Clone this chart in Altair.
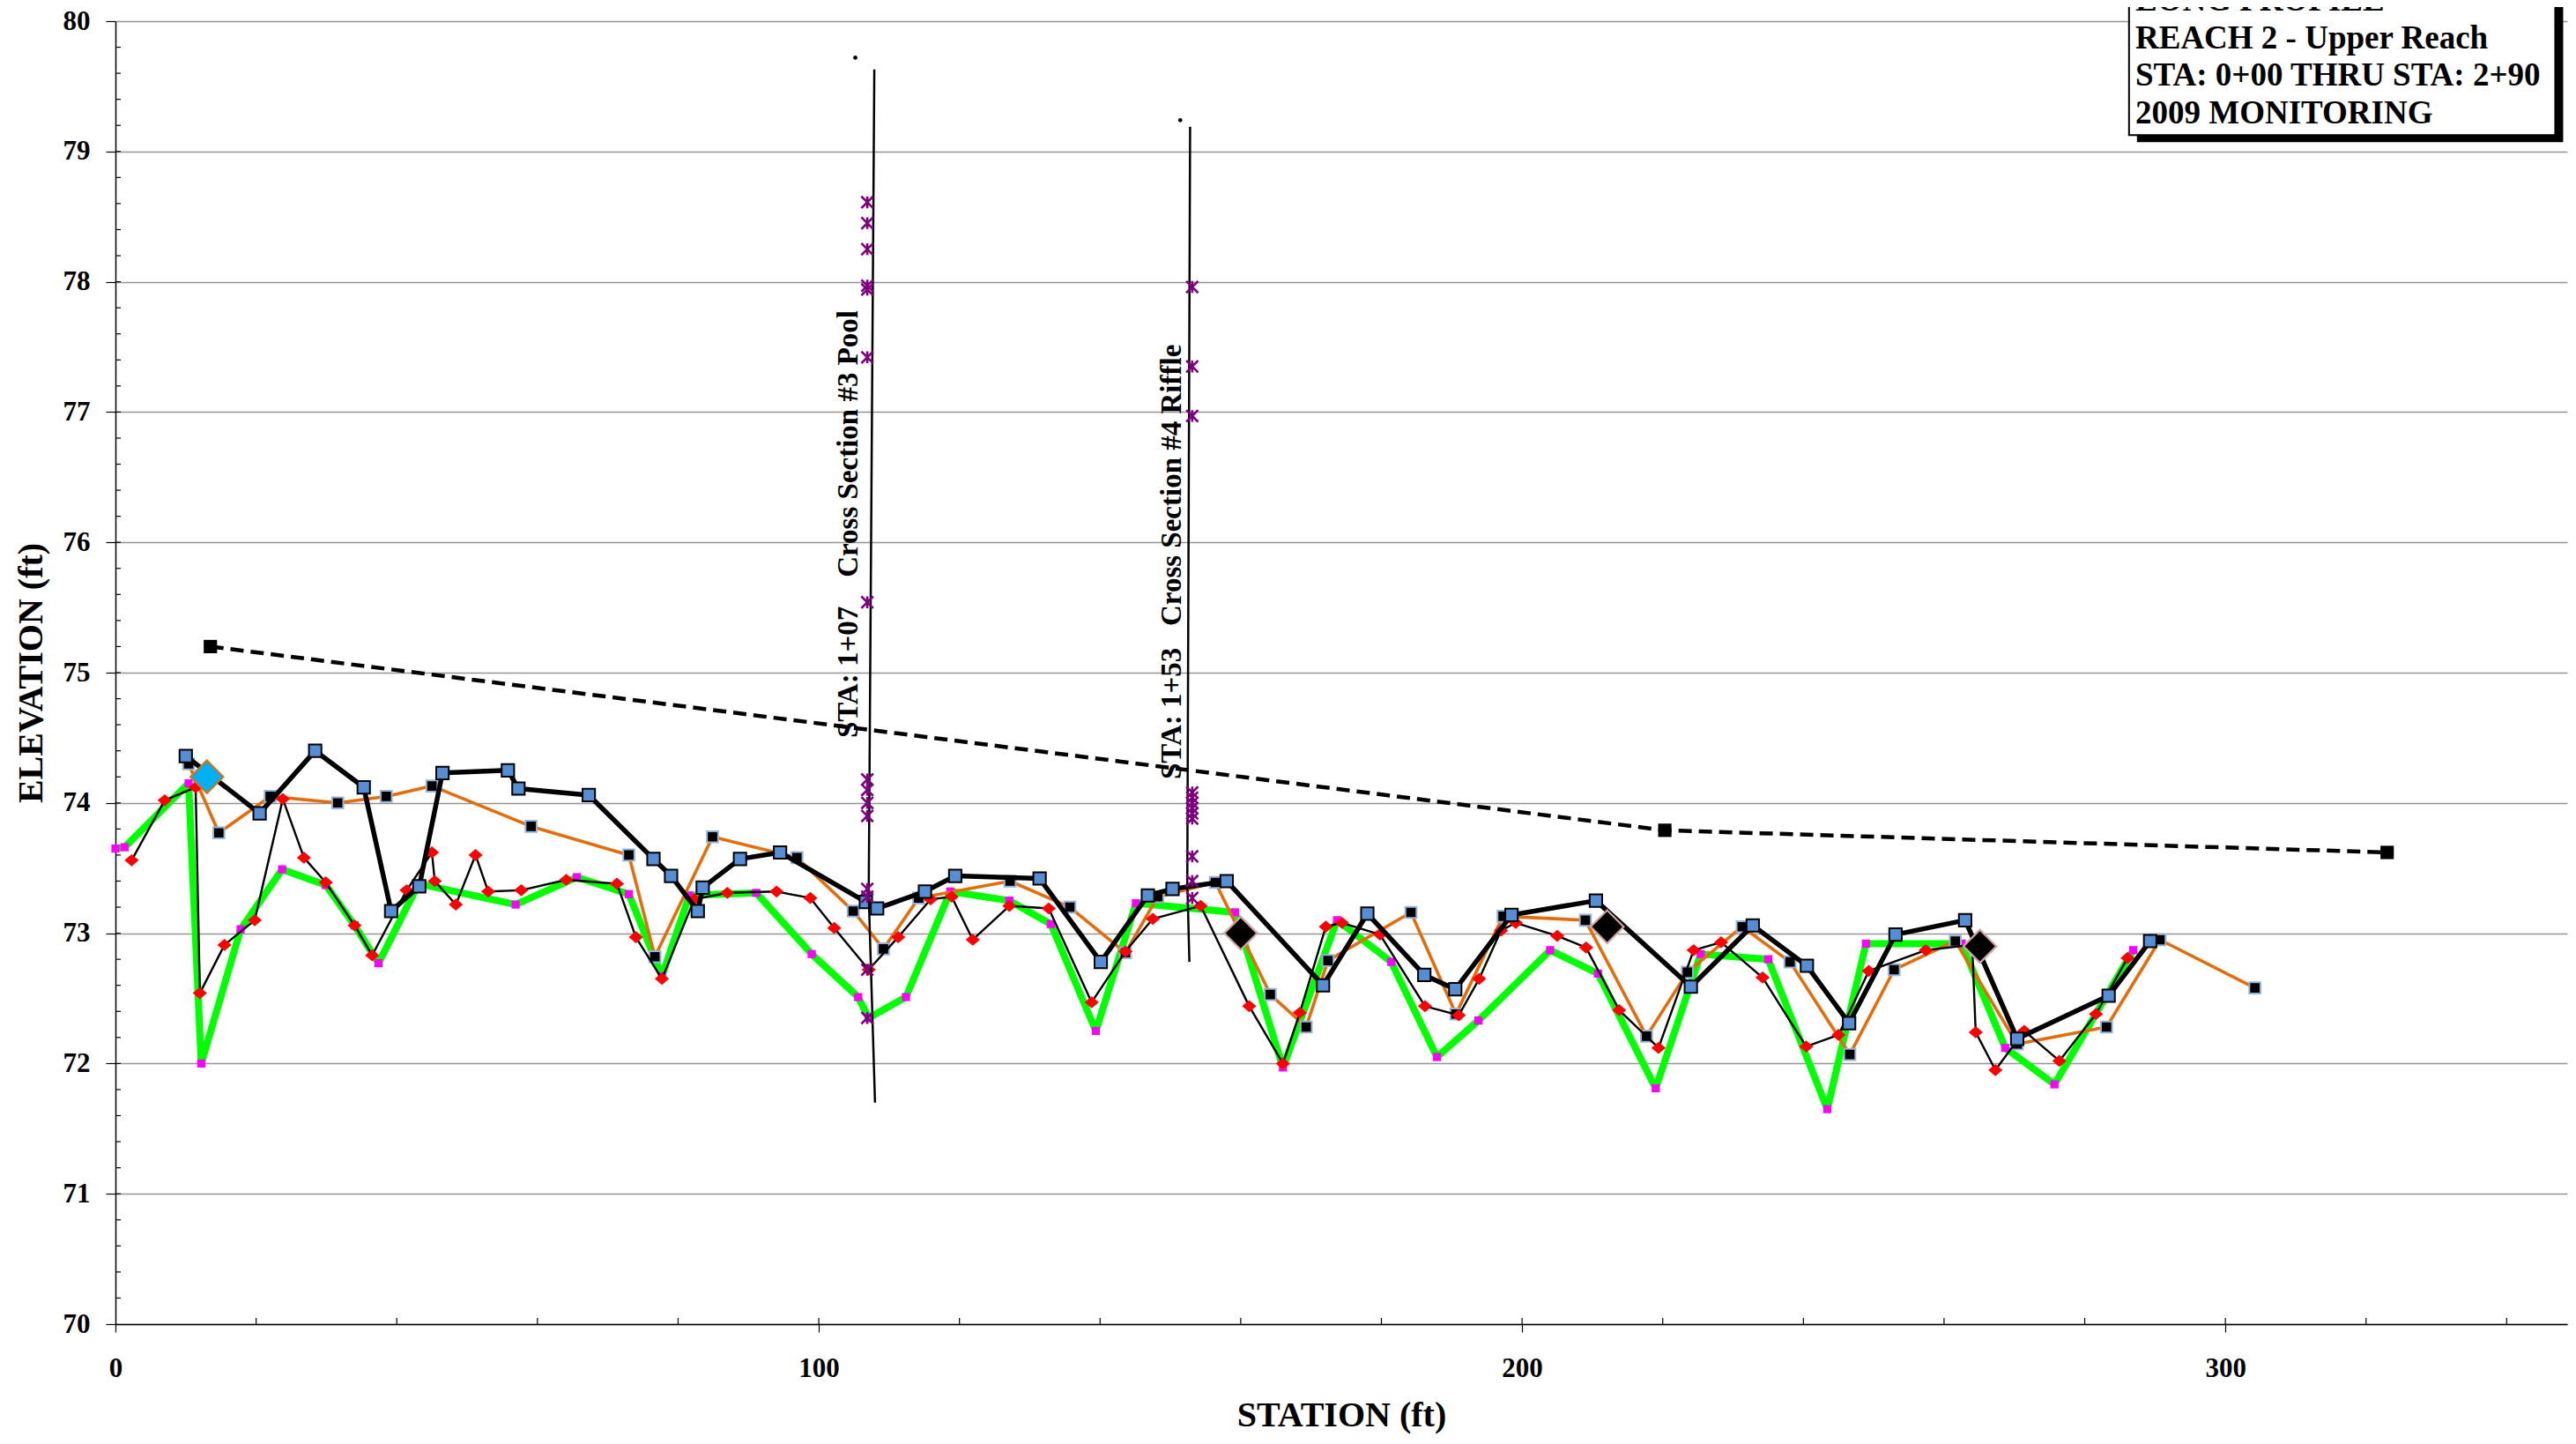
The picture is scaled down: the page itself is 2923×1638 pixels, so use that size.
import altair as alt
import pandas as pd

# ---------------- data ----------------
# dashed reference slope line
SLOPE_STA = [13.5, 220.3, 323.0]
SLOPE_EL = [75.20, 73.79, 73.62]

# thick black line with blue squares
WS_STA = [10.0, 20.5, 28.4, 35.3, 39.2, 43.2, 46.5, 55.8, 57.3, 67.3,
          76.5, 79.0, 82.8, 83.5, 88.8, 94.5, 106.7, 108.3, 115.1, 119.4,
          131.4, 140.1, 146.8, 150.3, 158.0, 171.7, 178.0, 186.1, 190.5, 198.5,
          210.5, 224.0, 232.8, 240.5, 246.5, 253.1, 263.0, 270.4, 283.4, 289.3]
WS_EL = [74.36, 73.92, 74.40, 74.12, 73.17, 73.36, 74.23, 74.25, 74.11, 74.06,
         73.57, 73.44, 73.17, 73.35, 73.57, 73.62, 73.24, 73.19, 73.32, 73.44,
         73.42, 72.78, 73.29, 73.34, 73.40, 72.60, 73.15, 72.68, 72.57, 73.14,
         73.25, 72.59, 73.06, 72.75, 72.31, 72.99, 73.10, 72.19, 72.52, 72.94]

# orange line with black squares
OR_STA = [10.4, 14.7, 22.0, 31.6, 38.5, 45.0, 59.1,
          73.0, 76.7, 84.9, 96.9, 104.9, 109.2, 114.2, 127.2, 135.7, 143.6, 148.2,
          156.4, 164.2, 169.3, 172.4, 184.2, 190.6, 197.3, 209.0, 217.7, 223.5, 231.3,
          238.1, 246.6, 252.9, 261.6, 270.4, 283.1, 290.7, 304.2]
OR_EL = [74.30, 73.77, 74.05, 74.00, 74.05, 74.13, 73.82,
         73.60, 72.82, 73.74, 73.58, 73.17, 72.88, 73.27, 73.40, 73.20, 72.85, 73.28,
         73.39, 72.53, 72.28, 72.79, 73.16, 72.38, 73.13, 73.10, 72.21, 72.70, 73.05,
         72.78, 72.07, 72.72, 72.94, 72.15, 72.28, 72.95, 72.58]

# thin black line with red diamonds
TH_STA = [2.3, 7.0, 11.4, 12.0, 15.5, 19.8, 23.8, 26.8, 29.9, 34.0,
          36.5, 41.4, 45.0, 45.4, 48.4, 51.2, 53.0, 57.7, 64.1,
          71.3, 74.0, 77.7, 82.3, 87.0, 94.0, 98.8, 102.2, 107.1, 111.3,
          115.9, 118.9, 121.9, 127.1, 132.7, 138.8, 143.6, 147.5,
          154.3, 161.2, 166.0, 168.4, 172.1, 174.4, 179.8, 186.2, 191.0, 193.9,
          197.0, 199.1, 205.0, 209.1, 213.8, 219.4, 224.4, 228.3,
          234.2, 240.4, 245.0, 249.3, 257.4, 264.0, 264.5, 267.3, 271.4, 276.4,
          281.6, 286.1]
TH_EL = [73.56, 74.02, 74.12, 72.54, 72.91, 73.10, 74.03, 73.58, 73.39, 73.06,
         72.83, 73.33, 73.62, 73.40, 73.22, 73.60, 73.32, 73.33, 73.41,
         73.38, 72.97, 72.65, 73.26, 73.31, 73.32, 73.27, 73.04, 72.72, 72.97,
         73.26, 73.28, 72.95, 73.21, 73.19, 72.47, 72.86, 73.11,
         73.21, 72.44, 72.00, 72.39, 73.05, 73.08, 72.99, 72.44, 72.37, 72.65,
         73.02, 73.08, 72.98, 72.89, 72.41, 72.12, 72.87, 72.93,
         72.66, 72.13, 72.22, 72.71, 72.87, 72.91, 72.24, 71.95, 72.25, 72.02,
         72.38, 72.81]

# thick green line with magenta squares
PT_STA = [0.0, 1.3, 10.4, 12.2, 17.8, 23.7, 29.9, 34.0, 37.4, 43.1,
          56.9, 65.6, 73.0, 77.7, 81.6, 91.1, 99.0, 105.6, 107.1, 112.4,
          118.7, 127.1, 133.0, 139.4, 145.1, 159.2, 166.0, 173.7, 181.4, 187.9,
          193.8, 204.0, 210.8, 219.0, 225.4, 235.0, 243.4, 248.9, 262.5, 268.7,
          275.7, 286.9]
PT_EL = [73.65, 73.66, 74.15, 72.00, 73.03, 73.49, 73.37, 73.06, 72.77, 73.38,
         73.22, 73.43, 73.30, 72.67, 73.29, 73.31, 72.84, 72.51, 72.35, 72.51,
         73.32, 73.25, 73.07, 72.25, 73.23, 73.16, 71.97, 73.10, 72.78, 72.05,
         72.33, 72.87, 72.69, 71.81, 72.84, 72.80, 71.65, 72.92, 72.92, 72.12,
         71.84, 72.87]

# cross sections
XS3_LINE_STA = [107.9, 107.1, 108.0]
XS3_LINE_EL = [79.63, 73.30, 71.70]
XS4_LINE_STA = [152.8, 152.4, 152.7]
XS4_LINE_EL = [79.19, 73.40, 72.78]
XS3_PT_STA = 106.9
XS3_PT_EL = [78.61, 78.45, 78.25, 77.97, 77.94, 77.42, 75.54, 74.18, 74.10,
             74.00, 73.90, 73.34, 73.28, 72.72, 72.35]
XS4_PT_STA = 153.1
XS4_PT_EL = [77.96, 77.35, 76.97, 74.08, 74.04, 74.00, 73.96, 73.92, 73.88,
             73.59, 73.40, 73.27]
XS_DOT_STA = [105.2, 151.4]
XS_DOT_EL = [79.72, 79.24]
XS_LABEL_STA = [104.3, 150.2]
XS_LABEL_EL = [76.14, 75.85]
NB = "\u00a0"
XS_LABELS = ["STA: 1+07" + NB * 4 + "Cross Section #3 Pool",
             "STA: 1+53" + NB * 3 + "Cross Section #4 Riffle"]

# feature markers
CYAN_STA = [13.0]
CYAN_EL = [74.20]
BIGD_STA = [160.0, 212.1, 265.1]
BIGD_EL = [73.00, 73.05, 72.90]

# title block
TITLE_LINES = ["LONG PROFILE", "REACH 2 - Upper Reach",
               "STA: 0+00 THRU STA: 2+90", "2009 MONITORING"]
BOX_STA = [286.3, 346.9]
BOX_EL = [79.125, 81.5]
TITLE_POS = [287.2, 80.08]

# axis ticks
X_LABEL_VALUES = [0, 100, 200, 300]
X_MINOR = list(range(20, 341, 20))
Y_VALUES = list(range(70, 81))
Y_MINOR = [round(70 + 0.2 * k, 1) for k in range(1, 50)]

# ---------------- layout ----------------
W, H = 2782, 1478
X_MAX = 348.6
FONT = "Liberation Serif"

xscale = alt.Scale(domain=[0, X_MAX], nice=False, zero=False)
yscale = alt.Scale(domain=[70, 80], nice=False, zero=False)

xaxis = alt.Axis(values=X_LABEL_VALUES, title="STATION (ft)", grid=False,
                 domainColor="black", domainWidth=1.5, tickColor="black",
                 tickSize=9, tickWidth=1.2, labelFont=FONT, labelFontSize=31,
                 labelFontWeight="bold", labelColor="black", labelPadding=26,
                 labelBaseline="top", labelFlush=False, labelOverlap=False,
                 titleFont=FONT, titleFontSize=40, titleFontWeight="bold",
                 titleColor="black", titleX=W / 2, titleY=103,
                 titleBaseline="middle", titleAlign="center")
yaxis = alt.Axis(values=Y_VALUES, title="ELEVATION (ft)", grid=True,
                 gridColor="#959595", gridWidth=1.5, domainColor="black",
                 domainWidth=1.5, tickColor="black", tickSize=11, tickWidth=1.2,
                 labelFont=FONT, labelFontSize=31, labelFontWeight="bold",
                 labelColor="black", labelPadding=18, labelBaseline="middle",
                 labelAlign="right", labelFlush=False, labelOverlap=False,
                 titleFont=FONT, titleFontSize=40, titleFontWeight="bold",
                 titleColor="black", titleX=-96, titleY=H / 2, titleAngle=270,
                 titleBaseline="middle", titleAlign="center")


def X():
    return alt.X("sta:Q", scale=xscale, axis=xaxis)


def Y():
    return alt.Y("el:Q", scale=yscale, axis=yaxis)


def frame(sta, el):
    if not isinstance(sta, (list, tuple)):
        sta = [sta] * len(el)
    return pd.DataFrame({"sta": sta, "el": el, "i": list(range(len(el)))})


def line(sta, el, **kw):
    return alt.Chart(frame(sta, el)).mark_line(strokeJoin="round", **kw).encode(
        x=X(), y=Y(), order="i:Q")


def pts(sta, el, **kw):
    return alt.Chart(frame(sta, el)).mark_point(opacity=1, **kw).encode(x=X(), y=Y())


ASTERISK = "M-1,-1L1,1M-1,1L1,-1M0,-1L0,1"
WIDE_DIAMOND = "M-1,0L0,-0.85L1,0L0,0.85Z"

layers = []
# previous thalweg: green
layers.append(line(PT_STA, PT_EL, color="#00FF00", strokeWidth=8))
layers.append(pts(PT_STA, PT_EL, shape="square", filled=True, size=85, fill="#FF00FF", strokeWidth=0))
# orange
layers.append(line(OR_STA, OR_EL, color="#E46C0A", strokeWidth=3.6))
layers.append(pts(OR_STA, OR_EL, shape="square", filled=True, size=160, fill="black",
                  stroke="#95B3D7", strokeWidth=2))
# thin black + red diamonds
layers.append(line(TH_STA, TH_EL, color="black", strokeWidth=2.4))
layers.append(pts(TH_STA, TH_EL, shape=WIDE_DIAMOND, filled=True, size=260, fill="#FF0000", strokeWidth=0))
# thick black + blue squares
layers.append(line(WS_STA, WS_EL, color="black", strokeWidth=5.5))
layers.append(pts(WS_STA, WS_EL, shape="square", filled=True, size=200, fill="#558ED5",
                  stroke="black", strokeWidth=2))
# dashed slope
layers.append(line(SLOPE_STA, SLOPE_EL, color="black", strokeWidth=4.5, strokeDash=[15, 8]))
layers.append(pts(SLOPE_STA, SLOPE_EL, shape="square", filled=True, size=230, fill="black", strokeWidth=0))
# cross-section lines
layers.append(line(XS3_LINE_STA, XS3_LINE_EL, color="black", strokeWidth=2.5))
layers.append(line(XS4_LINE_STA, XS4_LINE_EL, color="black", strokeWidth=2.5))
layers.append(alt.Chart(frame(XS_DOT_STA, XS_DOT_EL)).mark_circle(size=22, color="black", opacity=1)
              .encode(x=X(), y=Y()))
layers.append(pts(XS3_PT_STA, XS3_PT_EL, shape=ASTERISK, filled=False, size=180,
                  stroke="#7F007F", strokeWidth=2.6))
layers.append(pts(XS4_PT_STA, XS4_PT_EL, shape=ASTERISK, filled=False, size=180,
                  stroke="#7F007F", strokeWidth=2.6))
lab_df = pd.DataFrame({"sta": XS_LABEL_STA, "el": XS_LABEL_EL, "txt": XS_LABELS})
layers.append(alt.Chart(lab_df).mark_text(angle=270, align="center", baseline="middle",
                                          font=FONT, fontSize=33, fontWeight="bold",
                                          color="black")
              .encode(x=X(), y=Y(), text="txt:N"))
# feature markers
layers.append(pts(CYAN_STA, CYAN_EL, shape="diamond", filled=True, size=1400, fill="#00B0F0",
                  stroke="#E46C0A", strokeWidth=2))
layers.append(pts(BIGD_STA, BIGD_EL, shape="diamond", filled=True, size=1400, fill="black",
                  stroke="#D0A4A4", strokeWidth=2.2))

# inner minor ticks
xt_len = 7 * 10 / H
yt_len = 6 * X_MAX / W
xt_df = pd.DataFrame({"sta": X_MINOR, "el": [70] * len(X_MINOR),
                      "el2": [70 + xt_len] * len(X_MINOR)})
yt_df = pd.DataFrame({"sta": [0] * len(Y_MINOR), "sta2": [yt_len] * len(Y_MINOR), "el": Y_MINOR})
layers.append(alt.Chart(xt_df).mark_rule(color="black", strokeWidth=1.2)
              .encode(x=X(), y=Y(), y2="el2:Q"))
layers.append(alt.Chart(yt_df).mark_rule(color="black", strokeWidth=1.2)
              .encode(x=X(), x2="sta2:Q", y=Y()))

# title block with shadow
box_df = pd.DataFrame({"sta": [BOX_STA[0]], "sta2": [BOX_STA[1]],
                       "el": [BOX_EL[0]], "el2": [BOX_EL[1]]})
layers.append(alt.Chart(box_df).mark_rect(color="black", xOffset=9, x2Offset=9,
                                          yOffset=8, y2Offset=8, clip=False)
              .encode(x=X(), x2="sta2:Q", y=Y(), y2="el2:Q"))
layers.append(alt.Chart(box_df).mark_rect(fill="white", stroke="black", strokeWidth=2, clip=False)
              .encode(x=X(), x2="sta2:Q", y=Y(), y2="el2:Q"))
title_df = pd.DataFrame({"sta": [TITLE_POS[0]], "el": [TITLE_POS[1]],
                         "txt": ["\n".join(TITLE_LINES)]})
layers.append(alt.Chart(title_df).mark_text(align="left", baseline="alphabetic", font=FONT,
                                            fontSize=37, fontWeight="bold", color="black",
                                            lineBreak="\n", lineHeight=42.5, clip=False)
              .encode(x=X(), y=Y(), text="txt:N"))

chart = alt.layer(*layers).properties(
    width=W, height=H,
    autosize=alt.AutoSizeParams(type="none"),
    padding={"left": 123, "top": 16, "right": 2, "bottom": 126},
    background="white",
).configure_view(stroke=None)

chart.save("out.html", embed_options={"renderer": "svg", "actions": False})
